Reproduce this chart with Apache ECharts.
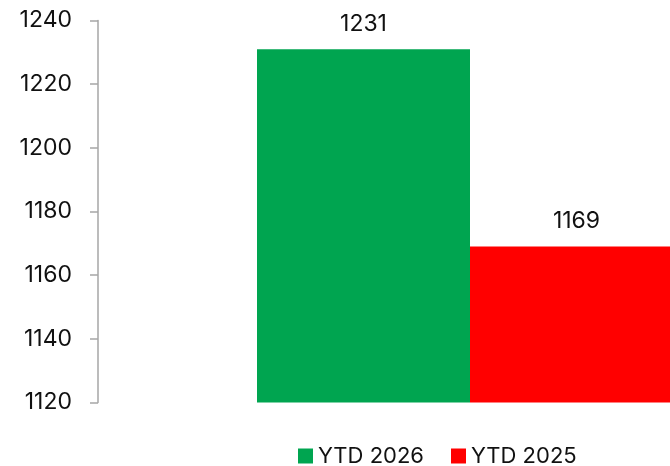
<!DOCTYPE html>
<html>
<head>
<meta charset="utf-8">
<script src="https://cdn.jsdelivr.net/npm/echarts@6/dist/echarts.min.js"></script>
<style>
  html, body { margin: 0; padding: 0; background: #fff; overflow: hidden; }
  /* the original chart is wider than the picture; its right part is cut off */
  #chart { width: 842px; height: 466px; }
</style>
</head>
<body>
<div id="chart"></div>
<script>
const categories = ['']
const ytd2026 = [1231]
const ytd2025 = [1169]
const seriesNames = ['YTD 2026', 'YTD 2025']
const yTicks = { min: 1120, max: 1240, step: 20 }

const font = 'Inter, "Liberation Sans", Arial, sans-serif'
const chart = echarts.init(document.getElementById('chart'))

const option = {
  animation: false,
  textStyle: { fontFamily: font },
  grid: {
    left: 98,
    right: 0,
    top: 20.5,
    bottom: 63.5,
    containLabel: false
  },
  legend: {
    data: seriesNames,
    top: 445,
    left: 298,
    padding: 0,
    itemWidth: 15,
    itemHeight: 15,
    itemGap: 27,
    icon: 'rect',
    textStyle: { fontSize: 22, lineHeight: 22, color: '#111', fontFamily: font }
  },
  xAxis: {
    type: 'category',
    data: categories,
    axisLine: { show: false },
    axisTick: { show: false },
    axisLabel: { show: false }
  },
  yAxis: {
    type: 'value',
    min: yTicks.min,
    max: yTicks.max,
    interval: yTicks.step,
    axisLine: { show: true, lineStyle: { color: '#a6a6a6', width: 1.5 } },
    axisTick: { show: true, length: 8, lineStyle: { color: '#a6a6a6', width: 1.5 } },
    splitLine: { show: false },
    axisLabel: {
      fontSize: 23,
      color: '#111',
      margin: 26,
      fontFamily: font,
      formatter: v => String(v)
    }
  },
  series: [
    {
      name: seriesNames[0],
      type: 'bar',
      data: ytd2026,
      barWidth: 213,
      barGap: '0%',
      itemStyle: { color: '#00a550' },
      label: { show: true, position: 'top', distance: 14, fontSize: 23, color: '#111', fontFamily: font }
    },
    {
      name: seriesNames[1],
      type: 'bar',
      data: ytd2025,
      barWidth: 213,
      barGap: '0%',
      itemStyle: { color: '#ff0000' },
      label: { show: true, position: 'top', distance: 14, fontSize: 23, color: '#111', fontFamily: font }
    }
  ]
}

chart.setOption(option)
</script>
</body>
</html>
